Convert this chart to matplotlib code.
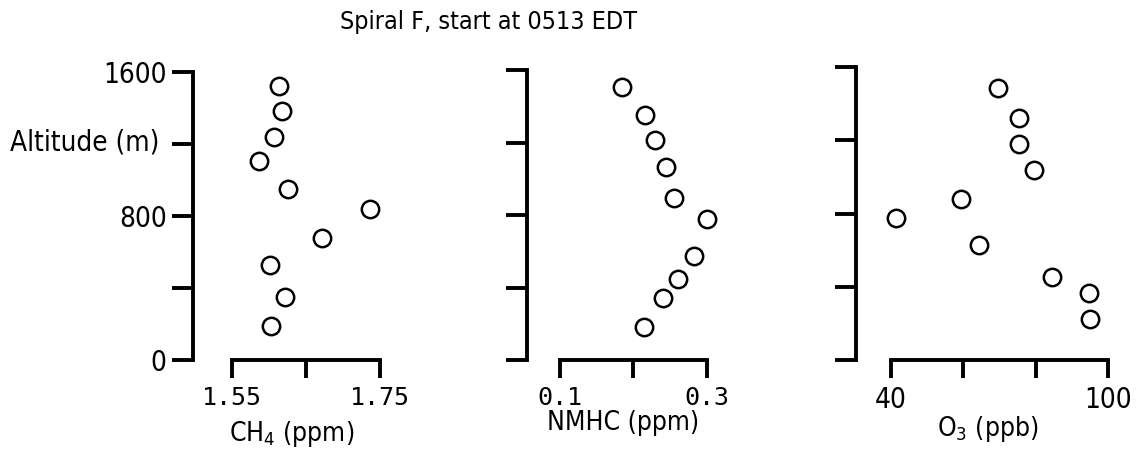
import matplotlib.pyplot as plt
import matplotlib

matplotlib.rcParams.update({
    "font.family": ["DejaVu Sans"],
    "font.stretch": "condensed",
    "font.size": 18,
})

# CH4 panel
ch4_ppm = [1.613, 1.617, 1.607, 1.586, 1.625, 1.737, 1.671, 1.601, 1.621, 1.603]
ch4_alt = [1522, 1383, 1241, 1107, 948, 839, 677, 528, 348, 191]
# NMHC panel
nmhc_ppm = [0.185, 0.216, 0.230, 0.244, 0.256, 0.300, 0.283, 0.261, 0.240, 0.215]
nmhc_alt = [1504, 1352, 1214, 1063, 892, 778, 575, 447, 340, 180]
# O3 panel
o3_ppb = [69.6, 75.3, 75.4, 79.5, 59.2, 41.3, 64.4, 84.4, 94.7, 95.0]
o3_alt = [1487, 1324, 1178, 1040, 878, 776, 630, 451, 367, 222]

alt_ticks = [0, 400, 800, 1200, 1600]
alt_labels = ['0', '', '800', '', '1600']

W, H = 1139, 457
fig = plt.figure(figsize=(W / 100, H / 100), dpi=100)

# (left px, right px, top px, xlim, xticks, xticklabels, xlabel, tick font, labelpad)
panels = [
    (193, 390, 72, (1.497, 1.7635), [1.55, 1.65, 1.75], ['1.55', '', '1.75'],
     r'CH$_4$ (ppm)', 'DejaVu Sans Mono', 6, ch4_ppm, ch4_alt),
    (527, 720, 70, (0.0558, 0.318), [0.1, 0.2, 0.3], ['0.1', '', '0.3'],
     'NMHC (ppm)', 'DejaVu Sans Mono', 0, nmhc_ppm, nmhc_alt),
    (856, 1120, 67, (30.34, 103.2), [40, 60, 80, 100], ['40', '', '', '100'],
     r'O$_3$ (ppb)', None, 0, o3_ppb, o3_alt),
]

bottom_px = 360
for i, (lpx, rpx, tpx, xlim, xt, xtl, xlab, tfont, lpad, xs, ys) in enumerate(panels):
    ax = fig.add_axes([lpx / W, (H - bottom_px) / H, (rpx - lpx) / W, (bottom_px - tpx) / H])
    ax.plot(xs, ys, linestyle='none', marker='o', markersize=12.5,
            markerfacecolor='white', markeredgecolor='black', markeredgewidth=1.8,
            clip_on=False)
    ax.set_xlim(*xlim)
    ax.set_ylim(0, 1600)
    ax.spines['top'].set_visible(False)
    ax.spines['right'].set_visible(False)
    for s in ('left', 'bottom'):
        ax.spines[s].set_linewidth(2.8)
    ax.spines['bottom'].set_bounds(xt[0], xt[-1])
    ax.set_xticks(xt)
    ax.set_xticklabels(xtl)
    ax.set_yticks(alt_ticks)
    if i == 0:
        ax.set_yticklabels(alt_labels)
    else:
        ax.set_yticklabels([''] * len(alt_ticks))
    ax.tick_params(axis='y', direction='out', length=15, width=2.8, pad=4, labelsize=20)
    ax.tick_params(axis='x', direction='out', length=13, width=2.8, pad=6, labelsize=20)
    if tfont:
        for t in ax.get_xticklabels():
            t.set_family(tfont)
            t.set_fontsize(18)
    ax.set_xlabel(xlab, fontsize=19, labelpad=lpad)

fig.text(10 / W, (H - 143) / H, 'Altitude (m)', ha='left', va='center', fontsize=20)
fig.text(488 / W, (H - 22) / H, 'Spiral F, start at 0513 EDT', ha='center', va='center', fontsize=18)

fig.savefig('out.png', dpi=100)
